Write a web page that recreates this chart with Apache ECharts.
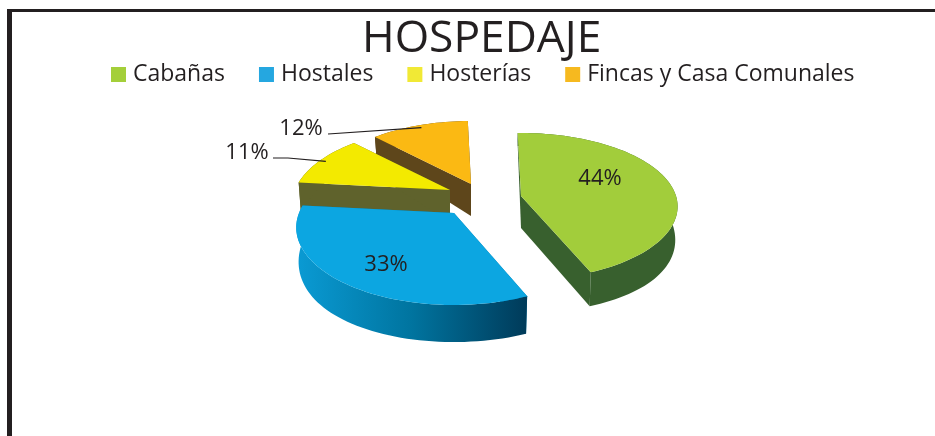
<!DOCTYPE html>
<html>
<head>
<meta charset="utf-8">
<title>HOSPEDAJE</title>
<script src="https://cdn.jsdelivr.net/npm/echarts@6/dist/echarts.min.js"></script>
<style>
  html, body { margin: 0; padding: 0; background: #fff; }
  #chart { width: 935px; height: 436px; }
</style>
</head>
<body>
<div id="chart"></div>
<script>
// data
const chartTitle = 'HOSPEDAJE'
const categories = ['Cabañas', 'Hostales', 'Hosterías', 'Fincas y Casa Comunales']
const values = [44, 33, 11, 12]

// styling, same order as categories
const legendColors = ['#a4cf3a', '#25a7e0', '#f1e935', '#f6b91f']
const topColors = ['#a2cd3b', '#0ca6e1', '#f3ea00', '#fbb913']
const wallColors = ['#38602e', '#0079ab', '#5f622c', '#5e461b']

// each slice is pulled out, so it gets its own centre
const centers = [[521, 196], [454, 213], [450, 190], [471, 184]]
const labelPos = [[600, 179], [386, 265], [247, 153], [301, 129]]
const leaderKnee = [null, null, [288, 158], [328, 134]]
const leaderStart = [null, null, [273, 158], [328, 134]]
// top k, top ry, bottom k, bottom ry - the big slice sits flatter than the rest
const perspective = [
  [0.143, 72, 0.018, 83.5],
  [0.187, 74.8, 0.084, 88.9],
  [0.187, 74.8, 0.084, 88.9],
  [0.187, 74.8, 0.084, 88.9]
]
// back to front
const drawOrder = [3, 2, 0, 1]

const startAngle = -1.4
const total = values.reduce((a, b) => a + b, 0)
const TEXT = '#231f20'
const FONT = '"Open Sans"'

function rimTop (c, p, deg, f = 1) {
  const t = deg * Math.PI / 180
  const w = 1 + p[0] * Math.cos(t)
  return [c[0] + f * 155 * Math.sin(t) / w, c[1] - f * p[1] * Math.cos(t) / w]
}
function rimBottom (c, p, deg) {
  const t = deg * Math.PI / 180
  const w = 1 + p[0] * Math.cos(t)
  const w2 = 1 + p[2] * Math.cos(t)
  return [c[0] + 0.985 * 155 * Math.sin(t) / w, c[1] + 32 - p[3] * Math.cos(t) / w2]
}

function arcPoints (fn, c, p, from, to) {
  const pts = []
  const n = Math.ceil((to - from) / 2)
  for (let i = 0; i <= n; i++) pts.push(fn(c, p, from + (to - from) * i / n))
  return pts
}

function sliceAngles (idx) {
  let sum = 0
  for (let i = 0; i < idx; i++) sum += values[i]
  return [startAngle + sum / total * 360, startAngle + (sum + values[idx]) / total * 360]
}

function makeRender (idx) {
  return function (params, api) {
    const c = centers[idx]
    const p = perspective[idx]
    const pct = api.value(0) / total
    const [from, to] = sliceAngles(idx)
    const top = arcPoints(rimTop, c, p, from, to)
    const bottom = arcPoints(rimBottom, c, p, from, to)
    const apexBottom = [c[0], c[1] + 32]
    const wallFill = idx === 1
      ? new echarts.graphic.LinearGradient(298, 0, 526, 0, [
        { offset: 0, color: '#0a9ad3' },
        { offset: 0.5, color: '#00749f' },
        { offset: 1, color: '#003b5a' }
      ], true)
      : wallColors[idx]
    const children = []
    const wall = (points, fill) => children.push({ type: 'polygon', shape: { points }, style: { fill } })

    wall([c, top[0], bottom[0], apexBottom], wallColors[idx])
    wall([c, top[top.length - 1], bottom[bottom.length - 1], apexBottom], wallColors[idx])
    wall(top.concat(bottom.slice().reverse()), wallFill)
    wall([c].concat(top), topColors[idx])

    if (leaderStart[idx]) {
      const end = rimTop(c, p, (from + to) / 2, 0.96)
      children.push({
        type: 'polyline',
        shape: { points: [leaderStart[idx], leaderKnee[idx], end] },
        style: { stroke: TEXT, lineWidth: 1.2, fill: null }
      })
    }
    children.push({
      type: 'text',
      x: labelPos[idx][0],
      y: labelPos[idx][1],
      style: {
        text: Math.round(pct * 100) + '%',
        fontFamily: FONT,
        fontSize: 22,
        fill: TEXT,
        align: 'center',
        verticalAlign: 'middle'
      }
    })
    return { type: 'group', children }
  }
}

const myChart = echarts.init(document.getElementById('chart'), null, { renderer: 'canvas' })

const option = {
  animation: false,
  backgroundColor: '#fff',
  title: {
    text: chartTitle,
    left: 362,
    top: 17,
    padding: 0,
    textStyle: { fontFamily: FONT, fontSize: 44.3, fontWeight: 'normal', color: TEXT }
  },
  legend: {
    // the first legend text sits a little higher in the original
    data: categories.map((name, i) => ({
      name,
      textStyle: { padding: i === 0 ? [0, 0, 4, 2] : [0, 0, 0, 2] }
    })),
    left: 111,
    top: 63,
    padding: 0,
    itemWidth: 15,
    itemHeight: 15,
    itemGap: 34,
    icon: 'rect',
    textStyle: { fontFamily: FONT, fontSize: 23, color: TEXT }
  },
  graphic: [
    { type: 'rect', shape: { x: 7, y: 9, width: 928, height: 3 }, style: { fill: TEXT } },
    { type: 'rect', shape: { x: 7, y: 9, width: 5, height: 427 }, style: { fill: TEXT } }
  ],
  series: drawOrder.map(idx => ({
    type: 'custom',
    name: categories[idx],
    coordinateSystem: 'none',
    silent: true,
    itemStyle: { color: legendColors[idx] },
    renderItem: makeRender(idx),
    data: [values[idx]]
  }))
}

myChart.setOption(option)
</script>
</body>
</html>
